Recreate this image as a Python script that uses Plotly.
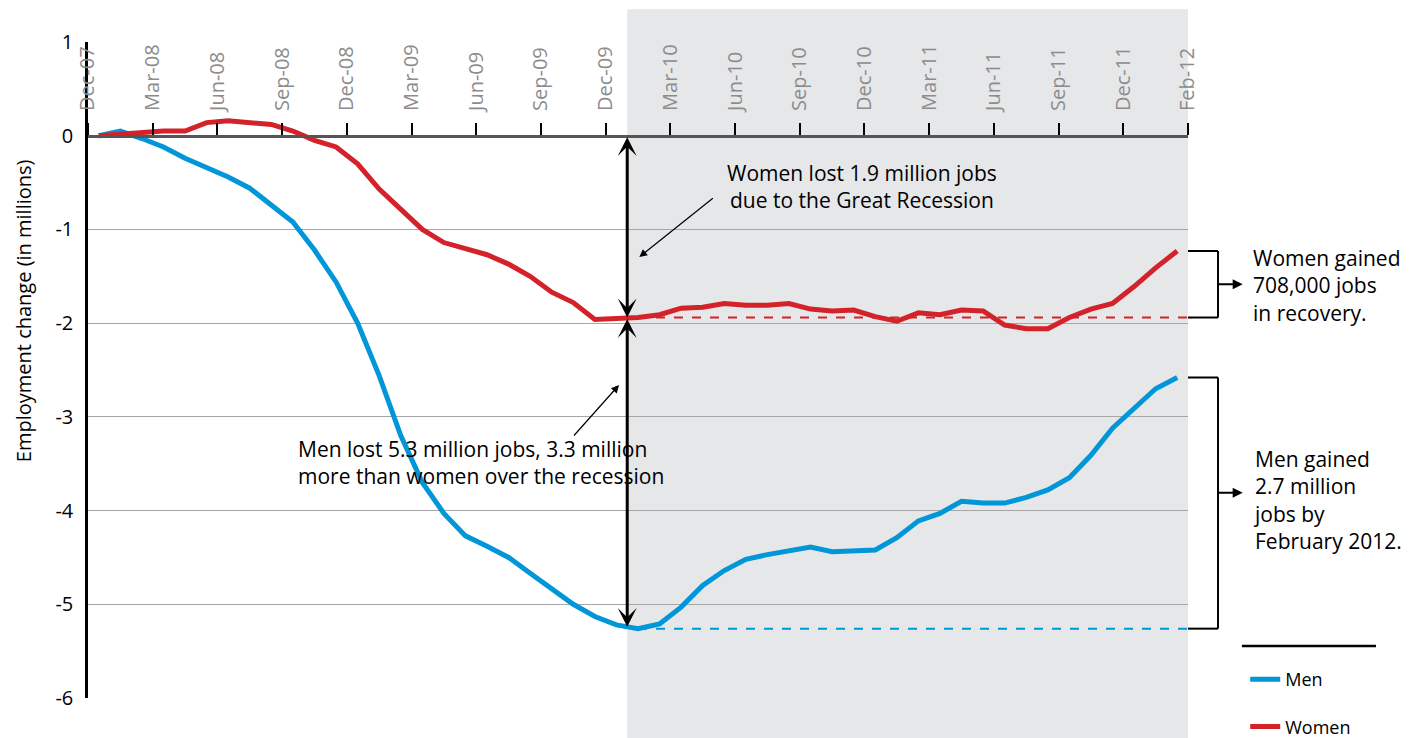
import plotly.graph_objects as go

# ---- data (millions, change since Dec-2007), monthly Dec-07 .. Feb-12 ----
men = [0.00, 0.05, -0.03, -0.12, -0.24, -0.34, -0.44, -0.56, -0.74, -0.92,
       -1.22, -1.56, -2.00, -2.56, -3.20, -3.70, -4.03, -4.27, -4.38, -4.50,
       -4.67, -4.84, -5.00, -5.13, -5.22, -5.26, -5.21, -5.03, -4.80, -4.64,
       -4.52, -4.47, -4.43, -4.39, -4.44, -4.43, -4.42, -4.29, -4.11, -4.03,
       -3.90, -3.92, -3.92, -3.86, -3.78, -3.65, -3.41, -3.12, -2.91, -2.70,
       -2.58]
women = [0.00, 0.02, 0.03, 0.05, 0.05, 0.14, 0.16, 0.14, 0.12, 0.05,
         -0.05, -0.12, -0.30, -0.57, -0.78, -1.00, -1.14, -1.20, -1.27, -1.37,
         -1.50, -1.67, -1.78, -1.96, -1.95, -1.94, -1.91, -1.84, -1.83, -1.79,
         -1.81, -1.81, -1.79, -1.85, -1.87, -1.86, -1.93, -1.98, -1.89, -1.91,
         -1.86, -1.87, -2.02, -2.06, -2.06, -1.94, -1.85, -1.79, -1.61, -1.41,
         -1.23]
month_idx = list(range(len(men)))
tick_labels = ["Dec-07", "Mar-08", "Jun-08", "Sep-08", "Dec-08", "Mar-09",
               "Jun-09", "Sep-09", "Dec-09", "Mar-10", "Jun-10", "Sep-10",
               "Dec-10", "Mar-11", "Jun-11", "Sep-11", "Dec-11", "Feb-12"]
tick_vals = [3 * i - 0.5 for i in range(len(tick_labels))]
y_tick_vals = [1, 0, -1, -2, -3, -4, -5, -6]
y_tick_labels = ["1", "0", "-1", "-2", "-3", "-4", "-5", "-6"]
trough_idx = 25          # employment trough month (Jan-10)
recovery_start = 24.5    # start of shaded recovery period
men_arrow_level = -3.81  # where the men bracket arrow sits

BLUE = "#0096d8"
RED = "#d3222a"
FONT = "Open Sans"

men_trough = men[trough_idx]
women_trough = women[trough_idx]
x_end = len(men) - 0.5

fig = go.Figure()
fig.add_trace(go.Scatter(x=month_idx, y=men, name="Men", mode="lines",
                         line=dict(color=BLUE, width=5), legendgroup="m"))
fig.add_trace(go.Scatter(x=month_idx, y=women, name="Women", mode="lines",
                         line=dict(color=RED, width=5), legendgroup="w"))

shapes = [
    # recovery shading
    dict(type="rect", xref="x", yref="paper", x0=recovery_start, x1=x_end,
         y0=-0.08, y1=1.05, fillcolor="#e6e7e9", line=dict(width=0), layer="below"),
    # trough reference lines
    dict(type="line", xref="x", yref="y", x0=trough_idx, x1=x_end,
         y0=women_trough, y1=women_trough, line=dict(color=RED, width=2, dash="dash")),
    dict(type="line", xref="x", yref="y", x0=trough_idx, x1=x_end,
         y0=men_trough, y1=men_trough, line=dict(color=BLUE, width=2, dash="dash")),
]
# brackets
bx0, bx1 = 1.0, 1.0273
for top, bot in [(women[-1], women_trough), (men[-1], men_trough)]:
    shapes += [
        dict(type="line", xref="paper", yref="y", x0=bx0, x1=bx1, y0=top, y1=top,
             line=dict(color="black", width=2)),
        dict(type="line", xref="paper", yref="y", x0=bx1, x1=bx1, y0=top, y1=bot,
             line=dict(color="black", width=2)),
        dict(type="line", xref="paper", yref="y", x0=bx0, x1=bx1, y0=bot, y1=bot,
             line=dict(color="black", width=2)),
    ]
# legend rule
shapes.append(dict(type="line", xref="paper", yref="paper", x0=1.049, x1=1.1709,
                   y0=0.0793, y1=0.0793, line=dict(color="black", width=2.5)))

ann = []
# big double-headed arrows
for y_tip, y_tail in [(0, women_trough), (women_trough, (men[24] + men[25]) / 2)]:
    ann.append(dict(x=recovery_start, y=y_tail, ax=recovery_start, ay=y_tip,
                    xref="x", yref="y", axref="x", ayref="y", text="",
                    showarrow=True, arrowside="end+start", arrowhead=3, startarrowhead=3,
                    arrowwidth=3, arrowsize=1.05, startarrowsize=1.05, arrowcolor="black"))
# thin pointer arrows
ann.append(dict(x=25.06, y=-1.295, ax=28.54, ay=-0.654, xref="x", yref="y",
                axref="x", ayref="y", text="", showarrow=True, arrowhead=2,
                arrowwidth=1.2, arrowsize=1.3, arrowcolor="black"))
ann.append(dict(x=24.12, y=-2.66, ax=21.97, ay=-3.215, xref="x", yref="y",
                axref="x", ayref="y", text="", showarrow=True, arrowhead=2,
                arrowwidth=1.2, arrowsize=1.3, arrowcolor="black"))
# bracket arrows
for yv in [(women[-1] + women_trough) / 2, men_arrow_level]:
    ann.append(dict(x=1.0497, y=yv, xref="paper", yref="y", ax=-26, ay=0,
                    text="", showarrow=True, arrowhead=2, arrowwidth=2,
                    arrowsize=1, arrowcolor="black"))
txt_font = dict(family=FONT, size=21, color="black")
ann.append(dict(x=35.38, y=-0.547, xref="x", yref="y", showarrow=False,
                text="Women lost 1.9 million jobs<br>due to the Great Recession",
                font=txt_font, align="center", xanchor="center", yanchor="middle"))
ann.append(dict(x=9.14, y=-3.49, xref="x", yref="y", showarrow=False,
                text="Men lost 5.3 million jobs, 3.3 million<br>more than women over the recession",
                font=txt_font, align="left", xanchor="left", yanchor="middle"))
ann.append(dict(x=1.057, y=-1.60, xref="paper", yref="y", showarrow=False,
                text="Women gained<br>708,000 jobs<br>in recovery.",
                font=txt_font, align="left", xanchor="left", yanchor="middle"))
ann.append(dict(x=1.057, y=-3.89, xref="paper", yref="y", showarrow=False,
                text="Men gained<br>2.7 million<br>jobs by<br>February 2012.",
                font=txt_font, align="left", xanchor="left", yanchor="middle"))
# y axis title
ann.append(dict(x=-0.058, y=0.59, xref="paper", yref="paper", showarrow=False,
                text="Employment change (in millions)", textangle=-90,
                font=dict(family=FONT, size=20, color="black"),
                xanchor="center", yanchor="middle"))

fig.update_layout(
    width=1421, height=738,
    margin=dict(l=80, r=241, t=34, b=48, autoexpand=False),
    paper_bgcolor="white", plot_bgcolor="rgba(0,0,0,0)",
    font=dict(family=FONT, size=18, color="black"),
    shapes=shapes, annotations=ann,
    showlegend=True,
    legend=dict(x=1.052, y=0.0564, xanchor="left", yanchor="top",
                font=dict(family=FONT, size=18, color="black"),
                tracegroupgap=21, bgcolor="rgba(0,0,0,0)"),
    xaxis=dict(range=[-0.5, x_end], tickvals=tick_vals, ticktext=tick_labels,
               side="top", anchor="free", position=6 / 7, tickangle=-90,
               ticks="outside", ticklen=12, tickwidth=1.5, tickcolor="black",
               ticklabelstandoff=8,
               showline=True, linecolor="#555555", linewidth=2.5,
               showgrid=False, zeroline=False,
               tickfont=dict(family=FONT, size=20, color="#8c8c8c")),
    yaxis=dict(range=[-6, 1], tickvals=y_tick_vals, ticktext=y_tick_labels,
               showgrid=True, gridcolor="#a6a6a6",
               gridwidth=1, zeroline=False, showline=True, linecolor="black",
               linewidth=2.5, ticks="", ticklabelstandoff=8,
               tickfont=dict(family=FONT, size=20, color="black")),
)

fig.write_html("out.html")
